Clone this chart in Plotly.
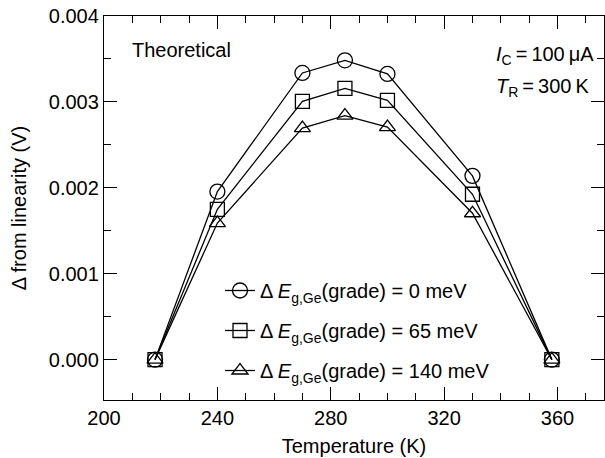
import plotly.graph_objects as go

temperature = [218, 240, 270, 285, 300, 330, 358]
delta_0meV = [0.0, 0.001956, 0.003337, 0.003484, 0.003326, 0.002139, 0.0]
delta_65meV = [0.0, 0.00175, 0.003006, 0.003158, 0.003018, 0.001925, 0.0]
delta_140meV = [0.0, 0.00159, 0.002695, 0.00284, 0.002707, 0.001704, 0.0]

series_names = [
    "Δ <i>E</i><sub>g,Ge</sub>(grade) = 0 meV",
    "Δ <i>E</i><sub>g,Ge</sub>(grade) = 65 meV",
    "Δ <i>E</i><sub>g,Ge</sub>(grade) = 140 meV",
]
symbols = ["circle-open", "square-open", "triangle-up-open"]
marker_sizes = [15, 14, 14]

FONT = "Liberation Sans, Arial, Helvetica, sans-serif"
FS = 20

fig = go.Figure()
for i, (vals, name, sym, ms) in enumerate(zip([delta_0meV, delta_65meV, delta_140meV], series_names, symbols, marker_sizes)):
    fig.add_trace(go.Scatter(
        x=temperature, y=vals, name=name, mode="lines+markers",
        legendgroup=f"g{i}",
        line=dict(color="black", width=1.3),
        marker=dict(symbol=sym, size=ms, color="black", line=dict(width=1.3, color="black")),
    ))

axis_common = dict(
    showline=True, linecolor="black", linewidth=1.3, mirror="allticks",
    ticks="inside", ticklen=13, tickwidth=1.3, tickcolor="black",
    showgrid=False, zeroline=False, automargin=False,
    tickfont=dict(family=FONT, size=FS, color="black"),
)

fig.update_xaxes(
    range=[200, 376.4], dtick=40, tick0=200,
    minor=dict(dtick=10, ticks="inside", ticklen=7, tickwidth=1.3, tickcolor="black"),
    title=dict(text="Temperature (K)", font=dict(family=FONT, size=FS, color="black"), standoff=10),
    **axis_common,
)
fig.update_yaxes(
    range=[-0.00047, 0.004], dtick=0.001, tick0=0, tickformat=".3f",
    minor=dict(dtick=0.0005, ticks="inside", ticklen=7, tickwidth=1.3, tickcolor="black"),
    title=dict(text="Δ from linearity (V)", font=dict(family=FONT, size=FS, color="black"), standoff=16),
    **axis_common,
)

fig.add_annotation(x=130, y=50, xref="paper", yref="paper", text="Theoretical",
                   showarrow=False, xanchor="left", yanchor="middle",
                   font=dict(family=FONT, size=FS, color="black"))
fig.add_annotation(x=494, y=55, xref="paper", yref="paper",
                   text="<i>I</i><sub>C</sub>\u2009=\u2009100\u2009μA",
                   showarrow=False, xanchor="left", yanchor="middle",
                   font=dict(family=FONT, size=FS, color="black"))
fig.add_annotation(x=494, y=87, xref="paper", yref="paper",
                   text="<i>T</i><sub>R</sub>\u2009=\u2009300\u2009K",
                   showarrow=False, xanchor="left", yanchor="middle",
                   font=dict(family=FONT, size=FS, color="black"))

# convert pixel positions of annotations to paper coords
L, R, T, B = 104, 1, 16, 58
W, H = 605, 458
pw, ph = W - L - R, H - T - B
for ann in fig.layout.annotations:
    ann.x = (ann.x - L) / pw
    ann.y = 1 - (ann.y - T) / ph

fig.update_layout(
    width=W, height=H,
    margin=dict(l=L, r=R, t=T, b=B, autoexpand=False),
    paper_bgcolor="white", plot_bgcolor="white",
    font=dict(family=FONT, size=FS, color="black"),
    showlegend=True,
    legend=dict(
        x=(220 - L) / pw, y=1 - (271 - T) / ph, xanchor="left", yanchor="top",
        bgcolor="rgba(0,0,0,0)", borderwidth=0,
        font=dict(family=FONT, size=FS, color="black"),
        tracegroupgap=11,
    ),
)

fig.write_html("out.html", config={"displayModeBar": False},
               post_script="document.body.style.margin='0';document.body.style.overflow='hidden';")
